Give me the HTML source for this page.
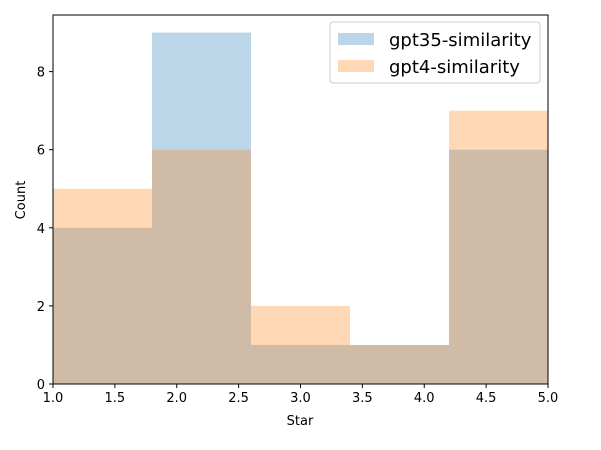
<!DOCTYPE html>
<html><head><meta charset="utf-8"><style>
body{margin:0;background:#fff}
svg{font-family:"DejaVu Sans","Liberation Sans",sans-serif}
</style></head><body>
<svg id="chart" width="601" height="445" xmlns="http://www.w3.org/2000/svg">
<rect width="601" height="445" fill="#fff"/>
<g id="bars"></g>
<rect x="53" y="15" width="495" height="369" fill="none" stroke="#000" stroke-width="1"/>
<g id="axes"></g>
<text x="300" y="425" font-size="13" text-anchor="middle">Star</text>
<text x="25" y="200" font-size="13" text-anchor="middle" transform="rotate(-90 25 200)">Count</text>
<g>
<rect x="330" y="22" width="210" height="61" rx="3" fill="#fff" fill-opacity="0.8" stroke="#ccc"/>
<rect x="338" y="33" width="36" height="12" fill="#1f77b4" fill-opacity="0.3"/>
<text x="389" y="46" font-size="18">gpt35-similarity</text>
<rect x="338" y="60" width="36" height="12" fill="#ff7f0e" fill-opacity="0.3"/>
<text x="389" y="73" font-size="18">gpt4-similarity</text>
</g>
</svg>
<script>
const binEdges=[1.0,1.8,2.6,3.4,4.2,5.0];
const gpt35Counts=[4,9,1,1,6];
const gpt4Counts=[5,6,2,1,7];
const xTicks=[1.0,1.5,2.0,2.5,3.0,3.5,4.0,4.5,5.0];
const yTicks=[0,2,4,6,8];
const X0=53,X1=548,Y0=384,Y1=15,xmin=1,xmax=5,ymax=9.45;
const sx=v=>X0+(v-xmin)/(xmax-xmin)*(X1-X0);
const sy=v=>Y0-v/ymax*(Y0-Y1);
const NS="http://www.w3.org/2000/svg";
const bars=document.getElementById('bars');
function drawSeries(counts,color,name){
  counts.forEach((c,i)=>{
    const r=document.createElementNS(NS,'rect');
    r.setAttribute('x',sx(binEdges[i]));
    r.setAttribute('width',sx(binEdges[i+1])-sx(binEdges[i]));
    r.setAttribute('y',sy(c));
    r.setAttribute('height',sy(0)-sy(c));
    r.setAttribute('fill',color);
    r.setAttribute('fill-opacity','0.3');
    
    
    bars.appendChild(r);
  });
}
drawSeries(gpt35Counts,'#1f77b4','gpt35');
drawSeries(gpt4Counts,'#ff7f0e','gpt4');
const axes=document.getElementById('axes');
xTicks.forEach(t=>{
  const l=document.createElementNS(NS,'line');
  l.setAttribute('x1',sx(t));l.setAttribute('x2',sx(t));
  l.setAttribute('y1',Y0);l.setAttribute('y2',Y0+4);
  l.setAttribute('stroke','#000');
  
  
  axes.appendChild(l);
  const tx=document.createElementNS(NS,'text');
  tx.setAttribute('x',sx(t));tx.setAttribute('y',Y0+18);
  tx.setAttribute('font-size','13');tx.setAttribute('text-anchor','middle');
  tx.textContent=t.toFixed(1);
  
  
  axes.appendChild(tx);
});
yTicks.forEach(t=>{
  const l=document.createElementNS(NS,'line');
  l.setAttribute('x1',X0-4);l.setAttribute('x2',X0);
  l.setAttribute('y1',sy(t));l.setAttribute('y2',sy(t));
  l.setAttribute('stroke','#000');
  
  
  axes.appendChild(l);
  const tx=document.createElementNS(NS,'text');
  tx.setAttribute('x',X0-8);tx.setAttribute('y',sy(t)+5);
  tx.setAttribute('font-size','13');tx.setAttribute('text-anchor','end');
  tx.textContent=t;
  
  
  axes.appendChild(tx);
});
</script>
</body></html>
